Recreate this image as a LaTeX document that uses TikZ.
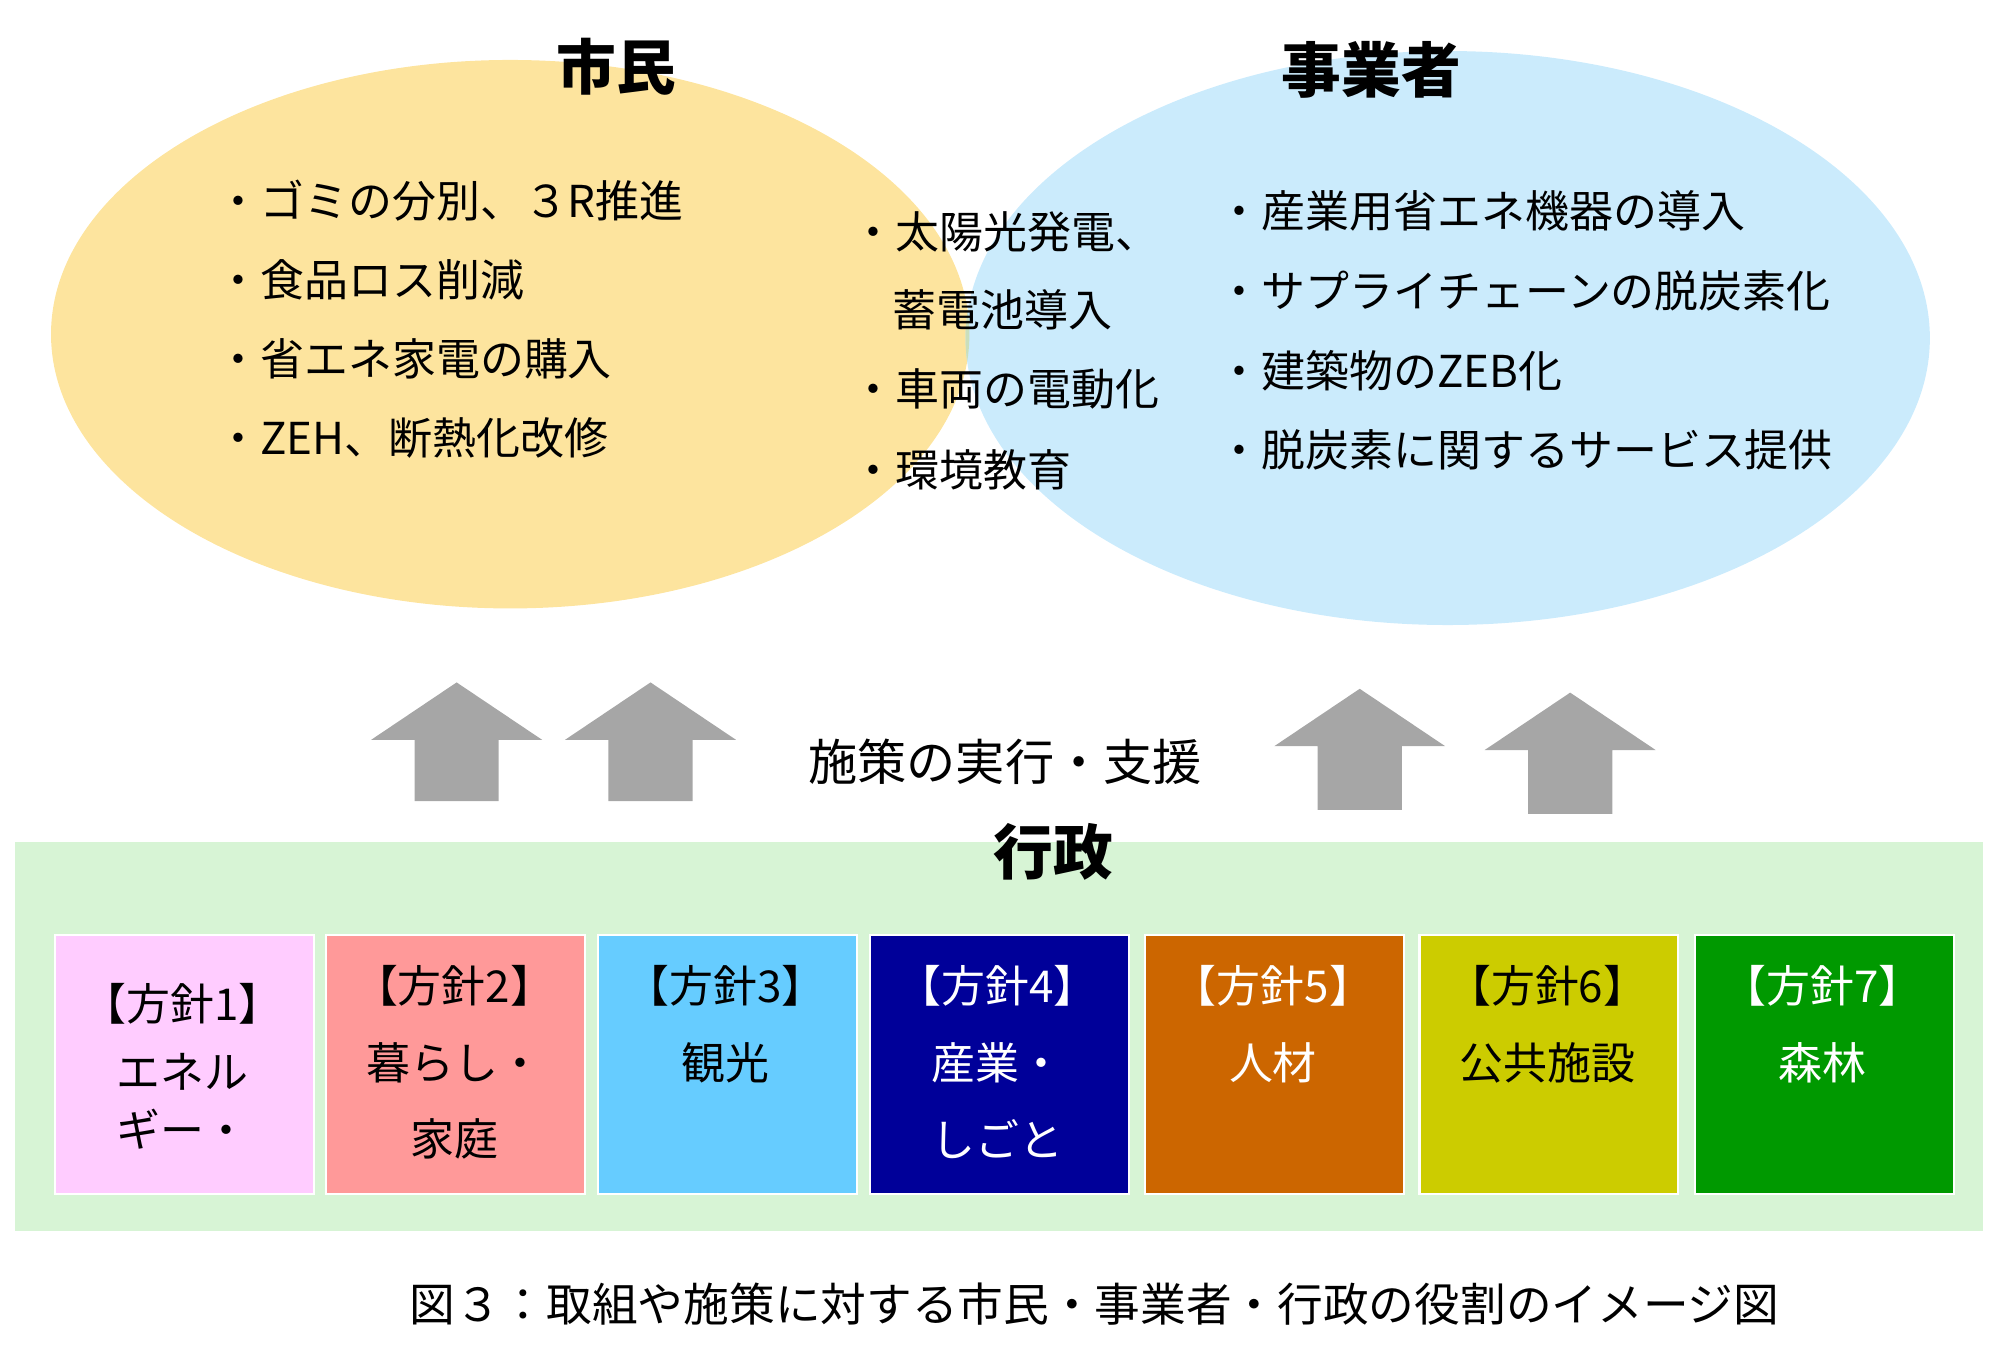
\documentclass[tikz,border=0pt]{standalone}
\usepackage{fontspec}
\setmainfont{Noto Sans CJK JP}
\usetikzlibrary{positioning}
\definecolor{shimin}{HTML}{FDE49E}
\definecolor{jigyo}{HTML}{CBEBFC}
\definecolor{kyotsu}{HTML}{CADFBC}
\definecolor{gyosei}{HTML}{D7F4D5}
\definecolor{yajirushi}{HTML}{A6A6A6}
\begin{document}
\begin{tikzpicture}[x=0.012755cm,y=-0.012755cm]
\tikzset{
  title/.style={font=\fontsize{17pt}{20pt}\selectfont\bfseries},
  item/.style={anchor=west,font=\fontsize{12.5pt}{15pt}\selectfont},
  box/.style={minimum width=203*0.012755cm,minimum height=203*0.012755cm,anchor=north west},
  boxtxt/.style={font=\fontsize{12.5pt}{15pt}\selectfont},
  uparrow/.style={fill=yajirushi}
}
\useasboundingbox (0,0) rectangle (1568,1068);
% Venn
\fill[shimin] (400,262) ellipse (360 and 215);
\fill[jigyo] (1135,265) ellipse (378 and 225);
\begin{scope}
\clip (400,262) ellipse (360 and 215);
\fill[kyotsu] (1135,265) ellipse (378 and 225);
\end{scope}
\node[title] (shiminT) at (483,52) {市民};
\node[title] (jigyoT) at (1075,55) {事業者};
% lists
\node[item] (s1) at (160,157) {・ゴミの分別、３R推進};
\node[item] (s2) at (160,219) {・食品ロス削減};
\node[item] (s3) at (160,281) {・省エネ家電の購入};
\node[item] (s4) at (160,343) {・ZEH、断熱化改修};
\node[item] (k1) at (658,182) {・太陽光発電、};
\node[item] (k2) at (690,243) {蓄電池導入};
\node[item] (k3) at (658,305) {・車両の電動化};
\node[item] (k4) at (658,368) {・環境教育};
\node[item] (j1) at (945,165) {・産業用省エネ機器の導入};
\node[item] (j2) at (945,228) {・サプライチェーンの脱炭素化};
\node[item] (j3) at (945,291) {・建築物のZEB化};
\node[item] (j4) at (945,353) {・脱炭素に関するサービス提供};
% arrows
\foreach \cx/\top/\bot in {358/535/628, 510/535/628, 1066/540/635, 1231/543/638}
  \fill[uparrow] (\cx-33,\bot) -- (\cx-33,\top+45) -- (\cx-67,\top+45) -- (\cx,\top)
    -- (\cx+67,\top+45) -- (\cx+33,\top+45) -- (\cx+33,\bot) -- cycle;
\node[font=\fontsize{14pt}{17pt}\selectfont] (shisaku) at (788,597) {施策の実行・支援};
% administration
\fill[gyosei] (12,660) rectangle (1555,965);
\node[title] (gyoseiT) at (826,668) {行政};
\foreach \i/\x/\col/\tc/\la/\lb/\lc in {
  1/42/FFCCFF/black/【方針1】/エネル/ギー・,
  2/255/FF9999/black/【方針2】/暮らし・/家庭,
  3/468/66CCFF/black/【方針3】/観光/,
  4/681/000099/white/【方針4】/産業・/しごと,
  5/897/CC6600/white/【方針5】/人材/,
  6/1112/CCCC00/black/【方針6】/公共施設/,
  7/1328/009900/white/【方針7】/森林/} {
  \definecolor{bc}{HTML}{\col}
  \node[box,fill=bc,draw=white,line width=0.6pt] (hoshin\i) at (\x,732) {};
  \ifnum\i=1
    \node[boxtxt,text=\tc] at (\x+101,787) {\la};
    \node[boxtxt,text=\tc] at (\x+101,840) {\lb};
    \node[boxtxt,text=\tc] at (\x+101,885) {\lc};
  \else
    \node[boxtxt,text=\tc] at (\x+101,773) {\la};
    \node[boxtxt,text=\tc] at (\x+101,833) {\lb};
    \node[boxtxt,text=\tc] at (\x+101,893) {\lc};
  \fi
}
\node[font=\fontsize{13pt}{16pt}\selectfont] (caption) at (858,1022) {図３：取組や施策に対する市民・事業者・行政の役割のイメージ図};
\end{tikzpicture}
\end{document}
